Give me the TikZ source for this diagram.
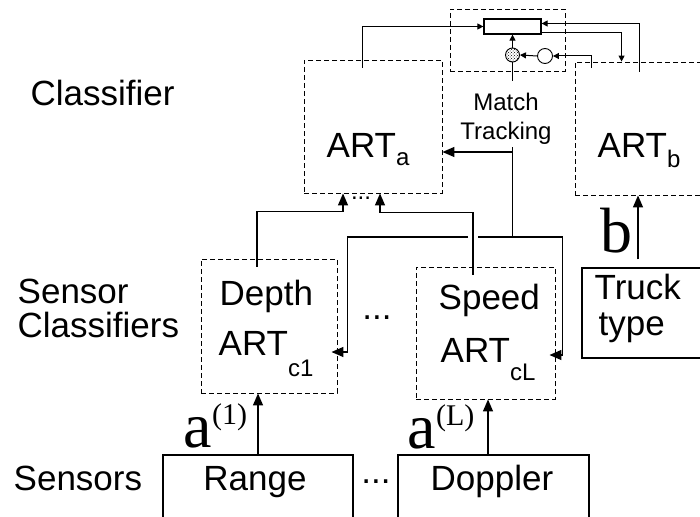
\documentclass[tikz,border=0pt]{standalone}
\usepackage{fontspec}
\setmainfont{Liberation Sans}
\newfontfamily\timesfont{Liberation Serif}
\usetikzlibrary{calc, arrows.meta, patterns}

% ART with a lowered index
\newcommand{\artlow}[2]{ART\raisebox{-#2pt}{\fontsize{24}{24}\selectfont #1}}

\begin{document}
\begin{tikzpicture}[x=1pt, y=-1pt, line width=1.4pt,
    dashbox/.style={draw, rectangle, inner sep=0pt, line width=0.9pt, dash pattern=on 5pt off 3pt},
    solidbox/.style={draw, rectangle, inner sep=0pt, line width=1.2pt},
    txt/.style={font=\fontsize{35}{34}\selectfont, inner sep=0pt},
    small/.style={font=\fontsize{24}{29}\selectfont, inner sep=0pt},
    sym/.style={font=\timesfont\fontsize{64}{64}\selectfont, inner sep=0pt},
    arr/.style={-{Triangle[length=12pt,width=10pt]}},
    tip/.style={-{Triangle[length=6pt,width=6pt]}, line width=1pt}]

    \useasboundingbox (0,0) rectangle (700,516);

    % Level names
    \node[txt, anchor=base west] (lclass) at (30,105) {Classifier};
    \node[txt, anchor=base west] (lsens1) at (17,303) {Sensor};
    \node[txt, anchor=base west] (lsens2) at (17,337) {Classifiers};
    \node[txt, anchor=base west] (lsensors) at (13,490) {Sensors};

    % Classifier: map field and the two ART modules
    \node[dashbox, minimum width=115pt, minimum height=62pt] (mapbox) at (507.5,40) {};
    \node[solidbox, minimum width=57pt, minimum height=15pt] (maprect) at (512.5,26.5) {};
    \node[circle, draw, line width=0.9pt, pattern=crosshatch dots, minimum size=14pt, inner sep=0pt] (vig) at (512.5,55) {};
    \node[circle, draw, line width=0.9pt, minimum size=15pt, inner sep=0pt] (cmp) at (545,56) {};
    \node[dashbox, minimum width=138pt, minimum height=133pt] (arta) at (373,126.5) {};
    \node[dashbox, minimum width=137pt, minimum height=133pt] (artb) at (643.5,128.5) {};
    \node[txt, anchor=base west] (ta) at (326,157) {\artlow{a}{8}};
    \node[txt, anchor=base west] (tb) at (597,157) {\artlow{b}{10}};
    \node[small, align=center] (mt) at (506,119) {Match\\Tracking};

    % Sensor classifiers and sensors
    \node[dashbox, minimum width=136pt, minimum height=134pt] (depth) at (269,326) {};
    \node[dashbox, minimum width=139pt, minimum height=132pt] (speed) at (485.5,333) {};
    \node[solidbox, minimum width=130pt, minimum height=90pt] (truck) at (647,313) {};
    \node[solidbox, minimum width=190pt, minimum height=75pt] (range) at (258,492.5) {};
    \node[solidbox, minimum width=191pt, minimum height=75pt] (doppler) at (493.5,492.5) {};

    \node[txt, anchor=base west] (tdepth) at (219,305) {Depth};
    \node[txt, anchor=base west] (tc1) at (218,355) {\artlow{c1}{21}};
    \node[txt, anchor=base west] (tspeed) at (438,309) {Speed};
    \node[txt, anchor=base west] (tcl) at (440,362) {\artlow{cL}{18}};
    \node[txt, anchor=base west] (ttruck) at (594,299) {Truck};
    \node[txt, anchor=base west] (ttype) at (598,335) {type};
    \node[txt, anchor=base] (trange) at (255,490) {Range};
    \node[txt, anchor=base] (tdoppler) at (492,490) {Doppler};

    % dots between modules
    \node[small] (adots) at (361,198) {...};
    \node[txt] (cdots) at (377,318) {...};
    \node[txt] (sdots) at (376,482) {...};

    % input labels
    \node[sym, anchor=base west] (aone) at (183,447) {a\raisebox{23pt}{\fontsize{30}{30}\selectfont(1)}};
    \node[sym, anchor=base west] (aell) at (407,448) {a\raisebox{23pt}{\fontsize{30}{30}\selectfont(L)}};
    \node[sym, anchor=base west] (blab) at (600,252) {b};

    % Map field wiring
    \coordinate (aout) at ($(arta.north)+(-11,8)$);
    \coordinate (bout) at ($(artb.north west)+(65,10)$);
    \coordinate (bcmp) at ($(artb.north west)+(17,6)$);
    \coordinate (bin) at ($(artb.north west)+(47,0)$);
    \draw[tip] (aout) |- (maprect.west);
    \draw[tip] (bout) |- ($(maprect.east)+(0,-3)$);
    \draw[tip] ($(maprect.east)+(0,6)$) -| (bin);
    \draw[tip] (bcmp) |- (cmp.east);
    \draw[tip] (cmp.west) -- (vig.east);
    \draw[tip] (vig.north) -- (vig.north |- maprect.south);
    \draw (vig.south) -- ($(vig.south |- mt.north)+(0,-12)$);

    % Match tracking
    \coordinate (mttop) at ($(vig.south |- mt.south)+(0,2)$);
    \coordinate (mtb) at (512.5,152);
    \coordinate (mtj) at (512.5,237);
    \coordinate (gapl) at (468,237);
    \coordinate (gapr) at (478,237);
    \draw (mttop) -- (mtj);
    \draw[arr] (mtb) -- (mtb -| arta.east);
    \draw[arr] (gapr) -| ($(speed.east)+(7,22)$) -- ($(speed.east)+(-6,22)$);
    \draw[arr] (gapl) -| ($(depth.east)+(10,26)$) -- ($(depth.east)+(-6,26)$);

    % Sensor classifiers to ART_a
    \draw[arr] ($(depth.north)+(-12,8)$) |- ($(arta.south)+(-30,18)$) -- ($(arta.south)+(-30,0)$);
    \draw[arr] ($(speed.north)+(-12.5,8)$) |- ($(arta.south)+(7,19)$) -- ($(arta.south)+(7,0)$);

    % Inputs
    \coordinate (dopin) at ($(doppler.north)+(-5.5,0)$);
    \coordinate (truckout) at ($(truck.north)+(-9,-8)$);
    \draw[arr] (range.north) -- (range.north |- depth.south);
    \draw[arr] (dopin) -- (dopin |- speed.south);
    \draw[arr] (truckout) -- (truckout |- artb.south);
\end{tikzpicture}
\end{document}
